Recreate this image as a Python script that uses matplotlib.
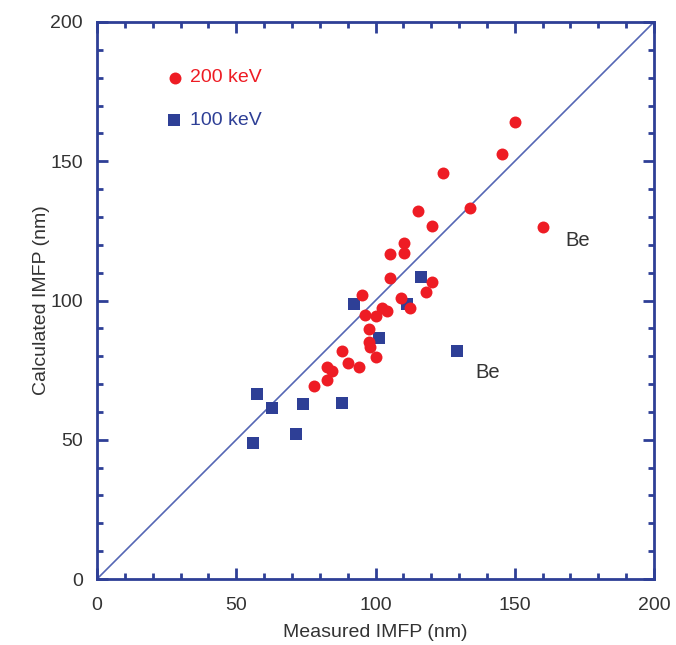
import matplotlib
matplotlib.use("Agg")
import matplotlib.pyplot as plt
from matplotlib.ticker import MultipleLocator

plt.rcParams['font.family'] = ['Liberation Sans', 'DejaVu Sans']

# 200 keV data (measured, calculated)
x200 = [150.1, 145.3, 124.1, 133.9, 115.2, 120.2, 160.0, 110.2, 110.2, 105.2,
        105.2, 120.2, 118.0, 95.3, 109.0, 112.5, 102.5, 104.0, 100.3, 96.4,
        97.8, 97.8, 98.0, 100.1, 87.9, 90.0, 94.1, 82.5, 84.3, 82.5, 78.0]
y200 = [164.2, 152.6, 145.9, 133.1, 132.1, 126.9, 126.5, 120.8, 116.9, 116.6,
        108.0, 106.5, 102.9, 102.0, 100.9, 97.3, 97.2, 96.3, 94.6, 94.7,
        89.7, 85.1, 83.3, 79.6, 81.9, 77.5, 76.3, 76.0, 74.7, 71.3, 69.3]

# 100 keV data
x100 = [57.3, 62.9, 74.1, 88.1, 71.3, 56.1, 92.4, 101.3, 116.3, 111.3, 129.2]
y100 = [66.4, 61.3, 62.7, 63.1, 52.0, 48.7, 98.7, 86.4, 108.6, 98.7, 82.0]

ref_line = [0, 200]

RED = '#ee1c24'
BLUE = '#2e3f96'
LINE = '#5566b5'
TXT = '#333333'

fig = plt.figure(figsize=(6.76, 6.45), dpi=100)
ax = fig.add_axes([97/676, 66/645, 557/676, 557/645])

ax.plot(ref_line, ref_line, color=LINE, lw=1.2, zorder=1)
ax.plot(x200, y200, 'o', color=RED, markersize=8.6, markeredgewidth=0, zorder=3)
ax.plot(x100, y100, 's', color=BLUE, markersize=8.4, markeredgewidth=0, zorder=2)

# legend-like annotations
ax.plot([28.0], [179.9], 'o', color=RED, markersize=8.6, markeredgewidth=0)
ax.text(33.3, 179.9, '200 keV', color=RED, fontsize=14, va='center', ha='left')
ax.plot([27.6], [164.8], 's', color=BLUE, markersize=8.4, markeredgewidth=0)
ax.text(33.3, 164.8, '100 keV', color=BLUE, fontsize=14, va='center', ha='left')

ax.text(168.0, 121.4, 'Be', color=TXT, fontsize=14.5, va='center', ha='left')
ax.text(136.0, 74.0, 'Be', color=TXT, fontsize=14.5, va='center', ha='left')

ax.set_xlim(0, 200)
ax.set_ylim(0, 200)
ax.xaxis.set_major_locator(MultipleLocator(50))
ax.yaxis.set_major_locator(MultipleLocator(50))
ax.xaxis.set_minor_locator(MultipleLocator(10))
ax.yaxis.set_minor_locator(MultipleLocator(10))
ax.tick_params(which='both', direction='in', top=True, right=True,
               color=BLUE, width=2, labelcolor=TXT, labelsize=14)
ax.tick_params(which='major', length=8)
ax.tick_params(which='minor', length=4.5)
ax.tick_params(axis='x', which='major', pad=13)
ax.tick_params(axis='y', which='major', pad=10)
for s in ax.spines.values():
    s.set_color(BLUE)
    s.set_linewidth(2)

ax.set_xlabel('Measured IMFP (nm)', fontsize=14, color=TXT, labelpad=7)
ax.set_ylabel('Calculated IMFP (nm)', fontsize=14, color=TXT, labelpad=0)

fig.savefig('out.png', dpi=100)
